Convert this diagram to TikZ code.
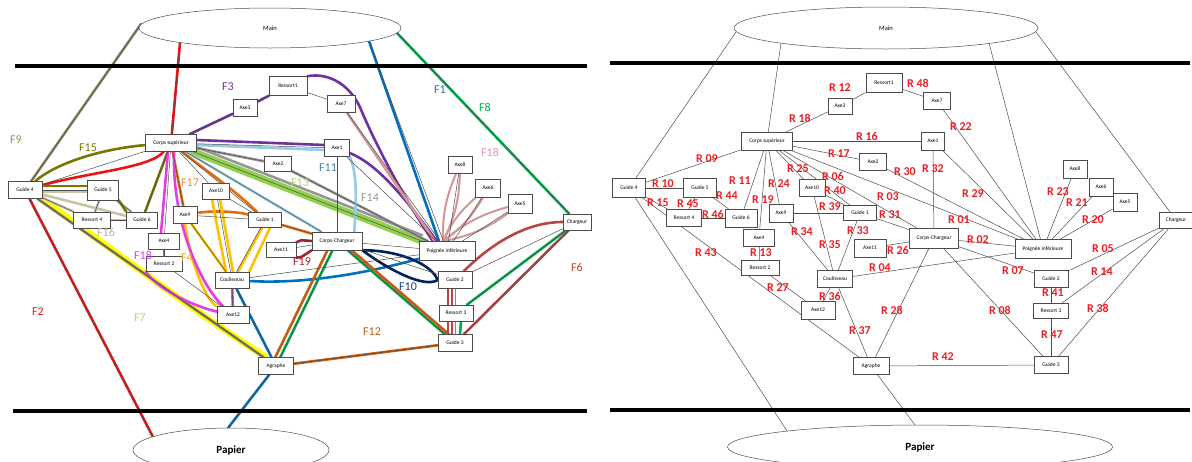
\documentclass[tikz,border=0pt]{standalone}
\usepackage{fontspec}
\setmainfont{Carlito}
\usetikzlibrary{shapes.geometric, backgrounds}

\definecolor{colF1}{RGB}{0,112,192}
\definecolor{colF2}{RGB}{235,20,20}
\definecolor{colF3}{RGB}{112,48,160}
\definecolor{colF4}{RGB}{255,192,0}
\definecolor{colF5}{RGB}{230,60,225}
\definecolor{colF6}{RGB}{185,70,70}
\definecolor{colF7}{RGB}{255,255,0}
\definecolor{colF8}{RGB}{0,176,80}
\definecolor{colF9}{RGB}{140,135,100}
\definecolor{colF10}{RGB}{0,32,96}
\definecolor{colF11}{RGB}{146,205,225}
\definecolor{colF12}{RGB}{197,90,17}
\definecolor{colF13}{RGB}{146,208,80}
\definecolor{colF14}{RGB}{150,150,150}
\definecolor{colF15}{RGB}{120,120,0}
\definecolor{colF16}{RGB}{200,195,165}
\definecolor{colF17}{RGB}{228,108,10}
\definecolor{colF18}{RGB}{210,150,150}
\definecolor{colF19}{RGB}{170,30,50}
\definecolor{labred}{RGB}{235,30,35}

\tikzset{
  box/.style={draw=black!70, fill=white, line width=0.5pt, inner sep=0.5pt,
    minimum height=17pt, font=\fontsize{5.5}{6}\selectfont},
  oval/.style={ellipse, draw=black!70, fill=white, line width=0.5pt, inner sep=0pt},
  liaison/.style={draw=black!70, line width=0.5pt},
  flow/.style={draw=#1, line width=2.6pt, line cap=round},
  flab/.style={font=\fontsize{12}{13}\selectfont, text=#1, inner sep=0pt},
  rlab/.style={font=\fontsize{12}{13}\selectfont\bfseries, text=labred, inner sep=0pt},
  barre/.style={line width=3.5pt, draw=black}
}

% liaisons shared by both panels
\newcommand\liaisonlist{cs/ax3, ax3/rs1, rs1/ax7, cs/ax1, cs/ax2, ax7/poi, g4/cs,
  g4/g5, cs/g6, cs/ax9, cs/ax10, cs/g1, ax10/g1, cs/cc, g4/rs4, g5/rs4, g5/g6,
  cs/ax4, rs4/g6, ax9/g1, g1/cc, ax9/cou, g1/cou, ax10/cou, g4/agr, ax4/rs2,
  ax2/poi, ax1/cc, ax1/poi, ax8/poi, ax6/poi, ax5/poi, cs/poi, cc/poi, ax11/cc,
  g2/chg, cou/poi, rs2/ax12, cou/ax12, cc/agr, cou/agr, cc/g2, rs3/chg, g2/rs3,
  cc/g3, g3/chg, rs3/g3, agr/g3, g4/mg4, cs/mcs, poi/mpoi, chg/mchg, g4/pg4, agr/pagr}

\begin{document}
\begin{tikzpicture}[x=1pt, y=-1pt]
\useasboundingbox (0,0) rectangle (1192,461);

% ===== LEFT PANEL: flows =====
\node[oval, minimum width=262, minimum height=40] (Lmain) at (270,28) {\fontsize{6.5}{7}\selectfont Main};
\node[oval, minimum width=196, minimum height=44] (Lpap) at (231,450) {\fontsize{11}{12}\selectfont\bfseries Papier};
\coordinate (Lmg4) at (141,24);
\coordinate (Lmcs) at (180,43);
\coordinate (Lmpoi) at (369,41);
\coordinate (Lmchg) at (397,33);
\coordinate (Lpg4) at (153,437);
\coordinate (Lpagr) at (228,428);

\node[box, minimum width=34] (Lg4) at (25,190) {Guide 4};
\node[box, minimum width=51] (Lcs) at (171,143) {Corps supérieur};
\node[box, minimum width=24] (Lax3) at (245,108) {Axe3};
\node[box, minimum width=38, minimum height=19] (Lrs1) at (288,86) {Ressort1};
\node[box, minimum width=28] (Lax7) at (341,104) {Axe7};
\node[box, minimum width=25] (Lax1) at (337,148) {Axe1};
\node[box, minimum width=27, minimum height=15] (Lax2) at (278,164) {Axe2};
\node[box, minimum width=31, minimum height=20] (Lg5) at (103,190) {Guide 5};
\node[box, minimum width=37, minimum height=16] (Lrs4) at (92,220) {Ressort 4};
\node[box, minimum width=31, minimum height=16] (Lg6) at (142,220) {Guide 6};
\node[box, minimum width=27, minimum height=16] (Lax10) at (216,191) {Axe10};
\node[box, minimum width=24] (Lax9) at (185,215) {Axe9};
\node[box, minimum width=33, minimum height=15] (Lg1) at (265,220) {Guide 1};
\node[box, minimum width=31, minimum height=16] (Lax4) at (164,241) {Axe4};
\node[box, minimum width=30, minimum height=15] (Lax11) at (281,250) {Axe11};
\node[box, minimum width=36, minimum height=15] (Lrs2) at (164,264) {Ressort 2};
\node[box, minimum width=34, minimum height=16] (Lcou) at (232,280) {Coulisseau};
\node[box, minimum width=32] (Lax12) at (233,315) {Axe12};
\node[box, minimum width=35] (Lagr) at (276,366) {Agraphe};
\node[box, minimum width=50, minimum height=18] (Lcc) at (337,241) {Corps-Chargeur};
\node[box, minimum width=56, minimum height=19] (Lpoi) at (447,251) {Poignée inférieure};
\node[box, minimum width=34] (Lg2) at (455,280) {Guide 2};
\node[box, minimum width=34, minimum height=16] (Lrs3) at (456,313) {Ressort 3};
\node[box, minimum width=34] (Lg3) at (455,343) {Guide 3};
\node[box, minimum width=28, minimum height=16] (Lchg) at (577,222) {Chargeur};
\node[box, minimum width=24] (Lax8) at (460,165) {Axe8};
\node[box, minimum width=25, minimum height=18] (Lax6) at (488,188) {Axe6};
\node[box, minimum width=24, minimum height=19] (Lax5) at (520,204) {Axe5};

% ===== RIGHT PANEL: liaisons =====
\node[oval, minimum width=304, minimum height=42] (Rmain) at (886,28) {\fontsize{6.5}{7}\selectfont Main};
\node[oval, minimum width=385, minimum height=44] (Rpap) at (920,447) {\fontsize{11}{12}\selectfont\bfseries Papier};
\coordinate (Rmg4) at (736,32);
\coordinate (Rmcs) at (781,43);
\coordinate (Rmpoi) at (989,43);
\coordinate (Rmchg) at (1036,32);
\coordinate (Rpg4) at (787,431);
\coordinate (Rpagr) at (915,425);

\node[box, minimum width=36, minimum height=19] (Rrs1) at (884,83) {Ressort1};
\node[box, minimum width=24, minimum height=16] (Rax3) at (840,106) {Axe3};
\node[box, minimum width=27] (Rax7) at (937,101) {Axe7};
\node[box, minimum width=51, minimum height=18] (Rcs) at (767,141) {Corps supérieur};
\node[box, minimum width=23, minimum height=18] (Rax1) at (933,141) {Axe1};
\node[box, minimum width=27] (Rax2) at (873,162) {Axe2};
\node[box, minimum width=33, minimum height=19] (Rg4) at (629,188) {Guide 4};
\node[box, minimum width=33, minimum height=19] (Rg5) at (700,188) {Guide 5};
\node[box, minimum width=35] (Rrs4) at (684,218) {Ressort 4};
\node[box, minimum width=32, minimum height=18] (Rg6) at (741,218) {Guide 6};
\node[box, minimum width=26] (Rax10) at (812,188) {Axe10};
\node[box, minimum width=24, minimum height=18] (Rax9) at (781,213) {Axe9};
\node[box, minimum width=33, minimum height=15] (Rg1) at (860,213) {Guide 1};
\node[box, minimum width=31] (Rax4) at (759,238) {Axe4};
\node[box, minimum width=32, minimum height=18] (Rax11) at (870,248) {Axe11};
\node[box, minimum width=38, minimum height=15] (Rrs2) at (760,268) {Ressort 2};
\node[box, minimum width=35] (Rcou) at (835,279) {Coulisseau};
\node[box, minimum width=34, minimum height=18] (Rax12) at (818,310) {Axe12};
\node[box, minimum width=36] (Ragr) at (871,366) {Agraphe};
\node[box, minimum width=24, minimum height=18] (Rax8) at (1075,169) {Axe8};
\node[box, minimum width=24, minimum height=18] (Rax6) at (1101,187) {Axe6};
\node[box, minimum width=24, minimum height=18] (Rax5) at (1125,202) {Axe5};
\node[box, minimum width=49, minimum height=20] (Rcc) at (934,238) {Corps-Chargeur};
\node[box, minimum width=56, minimum height=19] (Rpoi) at (1043,249) {Poignée inférieure};
\node[box, minimum width=33, minimum height=16] (Rchg) at (1176,220) {Chargeur};
\node[box, minimum width=34] (Rg2) at (1051,279) {Guide 2};
\node[box, minimum width=35, minimum height=15] (Rrs3) at (1051,311) {Ressort 3};
\node[box, minimum width=34] (Rg3) at (1051,365) {Guide 3};

\begin{pgfonlayer}{background}
% F7 and F9
\draw[flow=colF7, line width=6.5pt, transform canvas={xshift=2pt, yshift=1.5pt}] (Lg4) .. controls (110,250) and (190,312) .. (Lagr);
\draw[flow=colF9] (Lmg4) -- (Lg4);
\draw[flow=colF9] (Lg4) -- (Lagr);
% F2
\draw[flow=colF2] (Lmcs) -- (Lcs);
\draw[flow=colF2] (Lcs) .. controls (150,168) and (90,172) .. (Lg4);
\draw[flow=colF2] (Lg4) -- (Lpg4);
% F15 and F16
\draw[flow=colF16] ([yshift=-2pt]Lg4.east) -- ([yshift=-2pt]Lg5.west);
\draw[flow=colF16] (Lg4) -- (Lrs4);
\draw[flow=colF16] (Lg4) -- (Lg6);
\draw[flow=colF16] (Lg5) -- (Lrs4);
\draw[flow=colF16] (Lrs4) -- (Lg6);
\draw[flow=colF16] (Lg5) -- (Lg6);
\draw[flow=colF15] (Lg4) .. controls (60,160) and (110,148) .. (Lcs);
\draw[flow=colF15] (Lcs) -- (Lg6);
\draw[flow=colF15] (Lg6.north west) -- (Lg5.south east);
\draw[flow=colF15] ([yshift=4pt]Lg4.east) -- ([yshift=4pt]Lg5.west);
% F13, F14, F11
\draw[flow=colF13, line width=7pt] (Lcs) -- (Lpoi);
\draw[flow=colF14] (Lcs) -- (Lax2) -- (Lpoi);
\draw[flow=colF14, transform canvas={yshift=6pt}] (Lcs) -- (Lpoi);
\draw[flow=colF11] ([yshift=-2pt]Lcs.east) -- ([yshift=-2pt]Lax1.west);
\draw[flow=colF11] (Lax1.south east) .. controls (358,175) and (356,205) .. ([xshift=-8pt]Lcc.north east);
\draw[flow=colF11] (Lcs) -- (Lcc);
% F3
\draw[flow=colF3] (Lcs) -- (Lax3) -- (Lrs1);
\draw[flow=colF3] (Lrs1.north east) .. controls (330,72) and (352,86) .. (362,112)
  .. controls (385,165) and (415,215) .. ([xshift=-14pt]Lpoi.north);
\draw[flow=colF3] ([yshift=3pt]Lcs.east) -- ([yshift=3pt]Lax1.west);
\draw[flow=colF3] (Lax1) .. controls (380,165) and (410,205) .. ([xshift=-10pt]Lpoi.north);
% F18
\draw[flow=colF18] (Lax7) -- ([xshift=-12pt]Lpoi.north);
\foreach \a in {ax8, ax6, ax5} {
  \draw[flow=colF18, line width=2pt] (L\a) to[bend left=12] ([xshift=-4pt]Lpoi.north);
  \draw[flow=colF18, line width=2pt] (L\a) to[bend right=12] ([xshift=-4pt]Lpoi.north);
}
% F17
\draw[flow=colF17] (Lcs) .. controls (205,170) and (235,190) .. (Lg1);
\draw[flow=colF17] (Lcs) -- (Lax9);
\draw[flow=colF17] (Lax9) .. controls (215,210) and (240,212) .. (Lg1);
\draw[flow=colF17] (Lg1) -- (Lcc);
% F4
\draw[flow=colF4] ([xshift=-4pt]Lax10.south) -- ([xshift=-6pt]Lcou.north);
\draw[flow=colF4] ([xshift=4pt]Lax10.south) -- ([xshift=1pt]Lcou.north);
\draw[flow=colF4] (Lax9) -- (Lcou);
\draw[flow=colF4] ([xshift=-3pt]Lg1.south) -- ([xshift=6pt]Lcou.north);
\draw[flow=colF4] ([xshift=5pt]Lg1.south) -- (Lcou.north east);
\draw[flow=colF4] (Lax9.south) .. controls (190,260) and (205,300) .. (Lax12);
% F5
\draw[flow=colF5] ([xshift=-3pt]Lcs.south) -- ([xshift=-3pt]Lax4.north);
\draw[flow=colF5] (Lax4) -- (Lrs2);
\draw[flow=colF5] (Lrs2.south west) .. controls (160,292) and (200,308) .. (Lax12);
\draw[flow=colF5] ([xshift=3pt]Lcs.south) .. controls (172,230) and (205,290) .. (Lax12);
\draw[flow=colF5] (Lcou) -- (Lax12);
% F1
\draw[flow=colF1] (Lmpoi) -- ([xshift=-8pt]Lpoi.north);
\draw[flow=colF1] (Lpagr) -- (Lagr) -- (Lcou);
\draw[flow=colF1] (Lcou) .. controls (300,284) and (360,275) .. (Lpoi);
% F8
\draw[flow=colF8] (Lmchg) -- (Lchg);
\draw[flow=colF8] (Lchg) -- (Lrs3);
\draw[flow=colF8] ([xshift=5pt]Lrs3.south) -- ([xshift=5pt]Lg3.north);
\draw[flow=colF8] (Lg3) -- (Lcc);
\draw[flow=colF8] (Lcc) -- (Lagr);
% F12
\draw[flow=colF12] (Lagr) -- (Lg3);
\draw[flow=colF12, transform canvas={xshift=4pt}] (Lcc) -- (Lg3);
\draw[flow=colF12, transform canvas={xshift=-5pt}] (Lcc) -- (Lagr);
% F6
\draw[flow=colF6] (Lchg) .. controls (525,222) and (490,245) .. (Lg2);
\draw[flow=colF6] (Lchg) -- (Lg3);
\draw[flow=colF6] ([xshift=-7pt]Lg2.south) -- ([xshift=-7pt]Lg3.north);
\draw[flow=colF6] ([xshift=-3pt]Lg2.south) -- ([xshift=-3pt]Lg3.north);
% F10
\draw[flow=colF10] (Lcc.south east) .. controls (395,250) and (430,262) .. (Lg2.west)
  .. controls (425,288) and (392,272) .. (Lcc.south east);
% F19
\draw[flow=colF19] (Lax11.north east) .. controls (300,240) .. (Lcc.west);
\draw[flow=colF19] (Lax11.south east) .. controls (300,258) .. (Lcc.south west);

% thin liaisons, both panels
\foreach \p in {L,R} {
  \foreach \a/\b in \liaisonlist {
    \draw[liaison] (\p\a) -- (\p\b);
  }
}
\end{pgfonlayer}

% black limits
\draw[barre] (15,66) -- (587,66);
\draw[barre] (13,411) -- (587,411);
\draw[barre] (610,63) -- (1190,63);
\draw[barre] (610,410) -- (1190,410);

% flow labels
\foreach \t/\c/\x/\y in {1/{rgb,255:red,40;green,110;blue,170}/440/90,
  2/colF2/38/312, 3/colF3/228/87, 4/{rgb,255:red,240;green,170;blue,40}/187/258,
  18/colF5/143/255, 6/{rgb,255:red,190;green,60;blue,60}/577/267,
  7/{rgb,255:red,205;green,205;blue,110}/140/318, 8/colF8/485/107,
  9/{rgb,255:red,150;green,150;blue,90}/16/140, 10/{rgb,255:red,30;green,60;blue,130}/408/287,
  11/{rgb,255:red,70;green,130;blue,160}/328/168, 12/colF12/372/332,
  13/{rgb,255:red,170;green,210;blue,110}/300/183, 14/colF14/370/198,
  15/colF15/88/148, 16/{rgb,255:red,180;green,180;blue,170}/106/232,
  17/{rgb,255:red,230;green,140;blue,60}/190/183,
  18/{rgb,255:red,225;green,150;blue,165}/490/152, 19/colF19/302/262} {
  \node[flab=\c] (f\t) at (\x,\y) {F\t};
}

% liaison labels, right panel
\foreach \t/\x/\y in {01/959/220, 02/978/240, 03/888/197, 04/880/268, 05/1103/249,
  06/833/176, 07/1013/271, 08/1000/310, 09/707/159, 10/663/184, 11/740/181,
  12/840/88, 13/761/253, 14/1102/272, 15/658/203, 16/867/136, 17/839/154,
  18/800/118, 19/763/200, 20/1093/220, 21/1077/203, 22/961/127, 23/1058/192,
  24/779/184, 25/798/169, 26/898/250, 27/778/288, 28/892/310, 29/973/194,
  30/905/172, 31/890/215, 32/933/169, 33/858/231, 34/802/232, 35/830/245,
  36/830/296, 37/860/331, 38/1098/308, 39/830/207, 40/835/191, 41/1053/293,
  42/943/357, 43/706/253, 44/727/196, 45/688/204, 46/713/214, 47/1052/335,
  48/918/83} {
  \node[rlab] (r\t) at (\x,\y) {R \t};
}

\end{tikzpicture}
\end{document}
